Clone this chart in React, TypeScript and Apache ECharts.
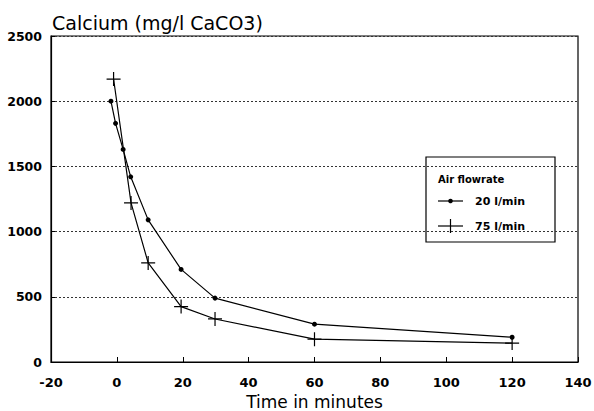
import React, { useEffect, useRef } from "react";
import * as echarts from "echarts";

const times20 = [-1.8, -0.4, 1.9, 4.2, 9.5, 19.5, 29.8, 60, 120];
const calcium20 = [2000, 1830, 1630, 1420, 1090, 710, 490, 290, 190];
const times75 = [-1, 4.3, 9.5, 19.5, 29.8, 60, 120];
const calcium75 = [2170, 1220, 760, 425, 330, 175, 145];
const seriesNames = ["20 l/min", "75 l/min"];
const titleText = "Calcium (mg/l CaCO3)";
const xAxisName = "Time in minutes";
const legendTitle = "Air flowrate";

const FONT = "DejaVu Sans";
const PLUS = "path://M0,5L10,5M5,0L5,10";

export default function App() {
  const ref = useRef<HTMLDivElement>(null);
  useEffect(() => {
    if (!ref.current) return;
    const chart = echarts.init(ref.current, undefined, { renderer: "svg" });
    const lx = 438;
    const lw = 25;
    const y1 = 201;
    const y2 = 226;
    chart.setOption({
      animation: false,
      backgroundColor: "#fff",
      textStyle: { fontFamily: FONT, color: "#000" },
      title: {
        text: titleText,
        left: 47,
        top: 8,
        textStyle: { fontFamily: FONT, fontSize: 19, fontWeight: "normal", color: "#000" },
      },
      grid: {
        left: 51,
        right: 16,
        top: 36,
        bottom: 49,
        outerBoundsMode: "none",
        containLabel: false,
        show: true,
        borderColor: "#000",
        borderWidth: 1.2,
      },
      xAxis: {
        type: "value",
        min: -20,
        max: 140,
        interval: 20,
        name: xAxisName,
        nameLocation: "middle",
        nameGap: 27,
        nameTextStyle: { fontFamily: FONT, fontSize: 17, color: "#000" },
        axisLine: { onZero: false, lineStyle: { color: "#000", width: 1.2 } },
        axisTick: { show: true, inside: true, length: 5, lineStyle: { color: "#000" } },
        axisLabel: { fontFamily: FONT, fontSize: 13, fontWeight: "bold", color: "#000", margin: 14 },
        splitLine: { show: false },
      },
      yAxis: {
        type: "value",
        min: 0,
        max: 2500,
        interval: 500,
        axisLine: { show: true, onZero: false, lineStyle: { color: "#000", width: 1.2 } },
        axisTick: { show: true, inside: true, length: 4, lineStyle: { color: "#000" } },
        axisLabel: {
          fontFamily: FONT,
          fontSize: 12.5,
          fontWeight: "bold",
          color: "#000",
          margin: 9,
          formatter: (v: number) => String(v),
        },
        splitLine: { show: true, lineStyle: { color: "#333", type: [2, 2], width: 1 } },
      },
      graphic: [
        {
          type: "rect",
          shape: { x: 426, y: 157, width: 129, height: 85 },
          style: { fill: "none", stroke: "#000", lineWidth: 1.2 },
        },
        {
          type: "text",
          x: lx,
          y: 179,
          style: {
            text: legendTitle,
            fontFamily: FONT,
            fontSize: 10,
            fontWeight: "bold",
            fill: "#000",
            verticalAlign: "middle",
          },
        },
        {
          type: "line",
          shape: { x1: lx, y1: y1, x2: lx + lw, y2: y1 },
          style: { stroke: "#000", lineWidth: 1.2 },
        },
        {
          type: "circle",
          shape: { cx: lx + lw / 2, cy: y1, r: 2.3 },
          style: { fill: "#000" },
        },
        {
          type: "text",
          x: 475,
          y: y1,
          style: {
            text: seriesNames[0],
            fontFamily: FONT,
            fontSize: 11,
            fontWeight: "bold",
            fill: "#000",
            verticalAlign: "middle",
          },
        },
        {
          type: "line",
          shape: { x1: lx, y1: y2, x2: lx + lw, y2: y2 },
          style: { stroke: "#000", lineWidth: 1.2 },
        },
        {
          type: "line",
          shape: { x1: lx + lw / 2, y1: y2 - 7, x2: lx + lw / 2, y2: y2 + 7 },
          style: { stroke: "#000", lineWidth: 1.2 },
        },
        {
          type: "text",
          x: 475,
          y: y2,
          style: {
            text: seriesNames[1],
            fontFamily: FONT,
            fontSize: 11,
            fontWeight: "bold",
            fill: "#000",
            verticalAlign: "middle",
          },
        },
      ],
      series: [
        {
          name: seriesNames[0],
          type: "line",
          data: times20.map((t, i) => [t, calcium20[i]]),
          symbol: "circle",
          symbolSize: 5,
          lineStyle: { color: "#000", width: 1.2 },
          itemStyle: { color: "#000" },
        },
        {
          name: seriesNames[1],
          type: "line",
          data: times75.map((t, i) => [t, calcium75[i]]),
          symbol: PLUS,
          symbolSize: 14,
          lineStyle: { color: "#000", width: 1.2 },
          itemStyle: { color: "#000", borderColor: "#000", borderWidth: 1.2 },
        },
      ],
    });
    return () => chart.dispose();
  }, []);
  return (
    <div
      ref={ref}
      style={{ position: "absolute", left: 0, top: 0, width: 594, height: 411 }}
    />
  );
}
